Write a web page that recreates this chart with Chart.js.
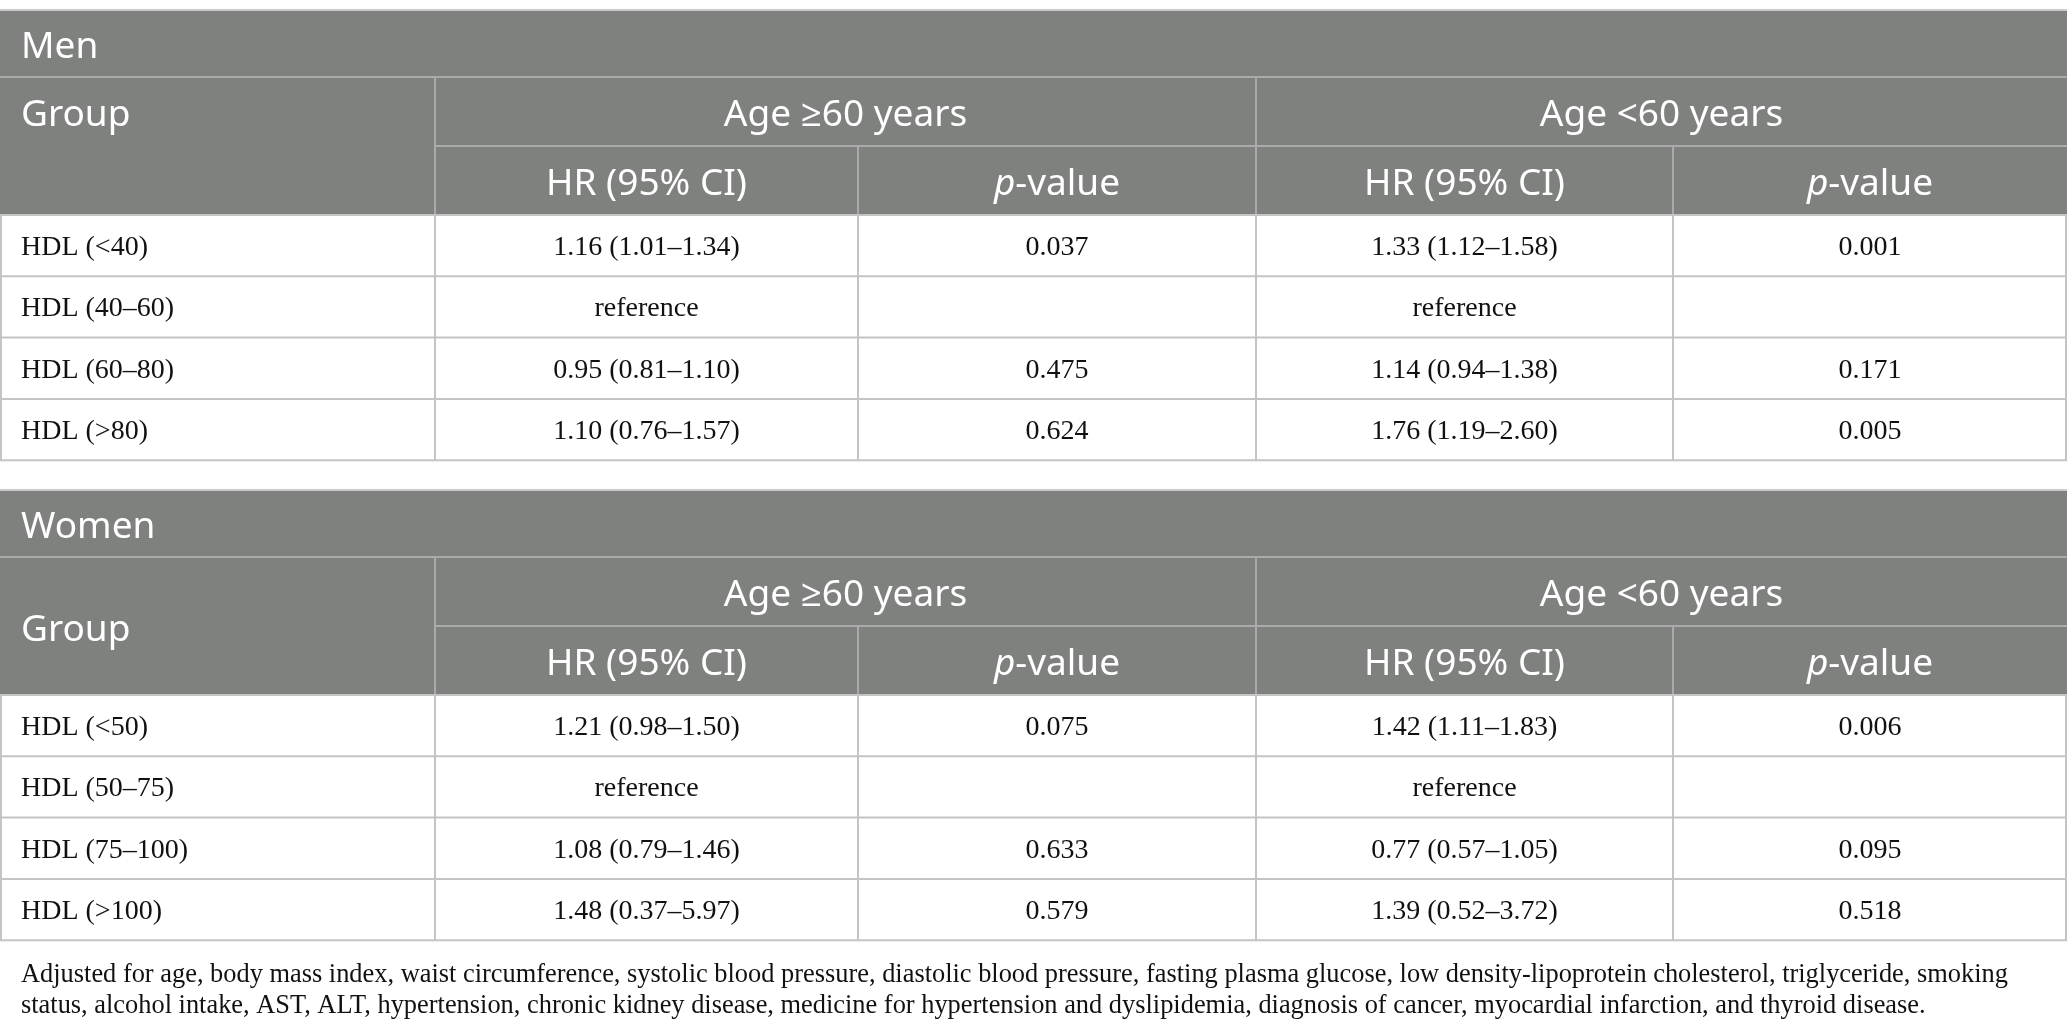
<!DOCTYPE html>
<html>
<head>
<meta charset="utf-8">
<script src="https://cdn.jsdelivr.net/npm/chart.js@4.4.0/dist/chart.umd.min.js"></script>
<style>
html, body { margin: 0; padding: 0; background: #fff; }
#tbl { display: block; }
</style>
</head>
<body>
<canvas id="tbl" width="2067" height="1034"></canvas>
<script>
var ageGroups = ['Age \u226560 years', 'Age <60 years'];

var menGroups = ['HDL (<40)', 'HDL (40\u201360)', 'HDL (60\u201380)', 'HDL (>80)'];
var menOldHR = [1.16, null, 0.95, 1.10];
var menOldLo = [1.01, null, 0.81, 0.76];
var menOldHi = [1.34, null, 1.10, 1.57];
var menOldP = [0.037, null, 0.475, 0.624];
var menYoungHR = [1.33, null, 1.14, 1.76];
var menYoungLo = [1.12, null, 0.94, 1.19];
var menYoungHi = [1.58, null, 1.38, 2.60];
var menYoungP = [0.001, null, 0.171, 0.005];

var womenGroups = ['HDL (<50)', 'HDL (50\u201375)', 'HDL (75\u2013100)', 'HDL (>100)'];
var womenOldHR = [1.21, null, 1.08, 1.48];
var womenOldLo = [0.98, null, 0.79, 0.37];
var womenOldHi = [1.50, null, 1.46, 5.97];
var womenOldP = [0.075, null, 0.633, 0.579];
var womenYoungHR = [1.42, null, 0.77, 1.39];
var womenYoungLo = [1.11, null, 0.57, 0.52];
var womenYoungHi = [1.83, null, 1.05, 3.72];
var womenYoungP = [0.006, null, 0.095, 0.518];

var footnote = [
  'Adjusted for age, body mass index, waist circumference, systolic blood pressure, diastolic blood pressure, fasting plasma glucose, low density-lipoprotein cholesterol, triglyceride, smoking',
  'status, alcohol intake, AST, ALT, hypertension, chronic kidney disease, medicine for hypertension and dyslipidemia, diagnosis of cancer, myocardial infarction, and thyroid disease.'
];

// ---- layout (scale units) ----
var colEdges = [0, 435, 858, 1256, 1673, 2067];
var titleH = 68, headH = 69, rowH = 61.3;
var HEAD_BG = '#7f817f';
var HEAD_LINE = '#a9aaa9';
var BODY_LINE = '#c4c4c4';
var SANS = '"Noto Sans", "Open Sans", sans-serif';
var SERIF = '"Liberation Serif", "DejaVu Serif", serif';
var HEAD_FONT = '37px ' + SANS;
var HEAD_DY = 4;   // header text sits a little low in its cell

function hrText(hr, lo, hi) {
  if (hr === null) return 'reference';
  return hr.toFixed(2) + ' (' + lo.toFixed(2) + '\u2013' + hi.toFixed(2) + ')';
}
function pText(p) {
  return p === null ? '' : p.toFixed(3);
}

var blocks = [
  { top: 9, title: 'Men', groups: menGroups, groupTop: true,
    cols: [[menOldHR, menOldLo, menOldHi, menOldP], [menYoungHR, menYoungLo, menYoungHi, menYoungP]] },
  { top: 489, title: 'Women', groups: womenGroups, groupTop: false,
    cols: [[womenOldHR, womenOldLo, womenOldHi, womenOldP], [womenYoungHR, womenYoungLo, womenYoungHi, womenYoungP]] }
];

function line(ctx, x1, y1, x2, y2, color) {
  ctx.strokeStyle = color;
  ctx.lineWidth = 2;
  ctx.beginPath();
  ctx.moveTo(x1, y1);
  ctx.lineTo(x2, y2);
  ctx.stroke();
}

function pValueHeader(ctx, cx, cy) {
  ctx.font = 'italic ' + HEAD_FONT;
  var w1 = ctx.measureText('p').width;
  ctx.font = HEAD_FONT;
  var w2 = ctx.measureText('-value').width;
  var x0 = cx - (w1 + w2) / 2;
  ctx.textAlign = 'left';
  ctx.font = 'italic ' + HEAD_FONT;
  ctx.fillText('p', x0, cy);
  ctx.font = HEAD_FONT;
  ctx.fillText('-value', x0 + w1, cy);
  ctx.textAlign = 'center';
}

function drawBlock(ctx, X, Y, b) {
  var e0 = b.top, e1 = e0 + titleH, e2 = e1 + headH, e3 = e2 + headH;
  var rows = [e3];
  for (var i = 0; i < b.groups.length; i++) rows.push(e3 + (i + 1) * rowH);
  var L = X(colEdges[0]), R = X(colEdges[5]);

  // header background
  ctx.fillStyle = HEAD_BG;
  ctx.fillRect(L, Y(e0), R - L, Y(e3) - Y(e0));

  // header grid
  line(ctx, L, Y(e0) + 1, R, Y(e0) + 1, '#c9c9c9');
  line(ctx, L, Y(e1), R, Y(e1), HEAD_LINE);
  line(ctx, X(colEdges[1]), Y(e2), R, Y(e2), HEAD_LINE);
  line(ctx, X(colEdges[1]), Y(e1), X(colEdges[1]), Y(e3), HEAD_LINE);
  line(ctx, X(colEdges[3]), Y(e1), X(colEdges[3]), Y(e3), HEAD_LINE);
  line(ctx, X(colEdges[2]), Y(e2), X(colEdges[2]), Y(e3), HEAD_LINE);
  line(ctx, X(colEdges[4]), Y(e2), X(colEdges[4]), Y(e3), HEAD_LINE);

  // body grid
  for (var r = 0; r < rows.length; r++) line(ctx, L, Y(rows[r]), R, Y(rows[r]), BODY_LINE);
  for (var c = 0; c < colEdges.length; c++) {
    var xx = X(colEdges[c]);
    if (c === 0) xx += 1;
    if (c === colEdges.length - 1) xx -= 1;
    line(ctx, xx, Y(e3), xx, Y(rows[rows.length - 1]), BODY_LINE);
  }

  // header text
  ctx.fillStyle = '#ffffff';
  ctx.textBaseline = 'middle';
  ctx.font = HEAD_FONT;
  ctx.textAlign = 'left';
  ctx.fillText(b.title, X(21), Y((e0 + e1) / 2 + HEAD_DY));
  var gy = b.groupTop ? (e1 + e2) / 2 : (e1 + e3) / 2;
  ctx.fillText('Group', X(21), Y(gy + HEAD_DY));
  ctx.textAlign = 'center';
  for (var a = 0; a < 2; a++) {
    var c0 = colEdges[1 + a * 2], c1 = colEdges[2 + a * 2], c2 = colEdges[3 + a * 2];
    ctx.font = HEAD_FONT;
    ctx.fillText(ageGroups[a], X((c0 + c2) / 2), Y((e1 + e2) / 2 + HEAD_DY));
    ctx.fillText('HR (95% CI)', X((c0 + c1) / 2), Y((e2 + e3) / 2 + HEAD_DY));
    pValueHeader(ctx, X((c1 + c2) / 2), Y((e2 + e3) / 2 + HEAD_DY));
  }

  // body text
  ctx.fillStyle = '#111111';
  ctx.font = '28px ' + SERIF;
  for (var k = 0; k < b.groups.length; k++) {
    var cy = Y((rows[k] + rows[k + 1]) / 2 + 2);
    ctx.textAlign = 'left';
    ctx.fillText(b.groups[k], X(21), cy);
    ctx.textAlign = 'center';
    for (var s = 0; s < 2; s++) {
      var d = b.cols[s];
      var l0 = colEdges[1 + s * 2], l1 = colEdges[2 + s * 2], l2 = colEdges[3 + s * 2];
      ctx.fillText(hrText(d[0][k], d[1][k], d[2][k]), X((l0 + l1) / 2), cy);
      ctx.fillText(pText(d[3][k]), X((l1 + l2) / 2), cy);
    }
  }
}

var tablePlugin = {
  id: 'tablePlugin',
  afterDraw: function(chart) {
    var ctx = chart.ctx;
    var xs = chart.scales.x, ys = chart.scales.y;
    var X = function(v) { return xs.getPixelForValue(v); };
    var Y = function(v) { return ys.getPixelForValue(v); };
    ctx.save();
    blocks.forEach(function(b) { drawBlock(ctx, X, Y, b); });
    ctx.fillStyle = '#111111';
    ctx.font = '26.4px ' + SERIF;
    ctx.textAlign = 'left';
    ctx.textBaseline = 'middle';
    ctx.fillText(footnote[0], X(21), Y(975));
    ctx.fillText(footnote[1], X(21), Y(1006));
    ctx.restore();
  }
};

var ctx = document.getElementById('tbl');
var myChart = new Chart(ctx, {
  type: 'scatter',
  data: { datasets: [] },
  options: {
    responsive: false,
    maintainAspectRatio: false,
    devicePixelRatio: 1,
    animation: false,
    layout: { padding: 0 },
    plugins: { legend: { display: false }, tooltip: { enabled: false } },
    scales: {
      x: { type: 'linear', min: 0, max: 2067, display: false },
      y: { type: 'linear', min: 0, max: 1034, reverse: true, display: false }
    }
  },
  plugins: [tablePlugin]
});
</script>
</body>
</html>
